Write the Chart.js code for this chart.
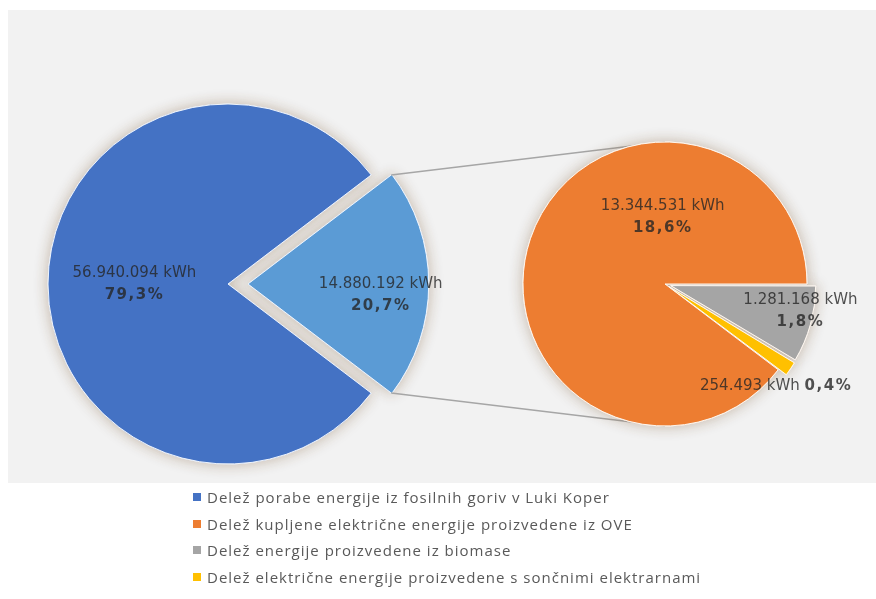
<!DOCTYPE html>
<html>
<head>
<meta charset="utf-8">
<script src="https://cdn.jsdelivr.net/npm/chart.js@4.4.1/dist/chart.umd.min.js"></script>
<style>
  html, body { margin: 0; padding: 0; background: #fff; }
  #wrap { position: relative; width: 876px; height: 599px; overflow: hidden; }
  #panel { position: absolute; left: 8px; top: 10px; width: 868px; height: 473px; background: #f2f2f2; }
  canvas { position: absolute; left: 0; top: 0; }
  #legend { position: absolute; left: 193px; top: 484px; font: 15px "Open Sans", sans-serif; letter-spacing: 1px; color: #595959; }
  #legend div { height: 26.5px; display: flex; align-items: center; white-space: nowrap; }
  #legend span { width: 8px; height: 8px; margin-right: 6px; display: inline-block; }
</style>
</head>
<body>
<div id="wrap">
  <div id="panel"></div>
  <canvas id="mainPie" width="876" height="599"></canvas>
  <canvas id="subPie" width="876" height="599"></canvas>
  <div id="legend"></div>
</div>
<script>
// glavni krog: fosilna goriva / OVE
const mainLabels = ['Delež porabe energije iz fosilnih goriv v Luki Koper', 'OVE skupaj'];
const mainValues = [56940094, 14880192];
const mainPercents = ['79,3%', '20,7%'];
const mainColors = ['#4472c4', '#5b9bd5'];

// drugi krog: razčlenitev OVE
const subLabels = [
  'Delež kupljene električne energije proizvedene iz OVE',
  'Delež energije proizvedene iz biomase',
  'Delež električne energije proizvedene s sončnimi elektrarnami'
];
const subValues = [13344531, 1281168, 254493];
const subPercents = ['18,6%', '1,8%', '0,4%'];
const subColors = ['#ed7d31', '#a5a5a5', '#ffc000'];

const OFFSET_DIV = 4; // v4 arc draws options.offset / 4
const sum = a => a.reduce((s, v) => s + v, 0);
const fmt = v => String(v).replace(/\B(?=(\d{3})+(?!\d))/g, '.') + ' kWh';
const deg = d => d * Math.PI / 180;

// where each label sits: angle (null = slice middle) and fraction of radius
const mainPlace = [{ angle: null, r: 0.52 }, { angle: 5, r: 0.74 }];
const subPlace = [{ angle: -92, r: 0.47 }, { angle: 11, r: 0.93 }, { angle: 43, r: 1.03, inline: true }];

function arcShift(arc) {
  const mid = (arc.startAngle + arc.endAngle) / 2;
  const off = (arc.options.offset || 0) / OFFSET_DIV;
  return { x: arc.x + Math.cos(mid) * off, y: arc.y + Math.sin(mid) * off, mid };
}

// soft shadow under slices, drawn before the slices themselves
const shadowPlugin = {
  id: 'shadow',
  beforeDatasetsDraw(chart) {
    const ctx = chart.ctx;
    chart.getDatasetMeta(0).data.forEach(arc => {
      ctx.save();
      ctx.shadowColor = 'rgba(140, 110, 80, 0.45)';
      ctx.shadowBlur = 14;
      arc.draw(ctx);
      ctx.restore();
    });
  }
};

function labelPlugin(values, percents, place) {
  return {
    id: 'sliceLabels',
    afterDatasetsDraw(chart) {
      const ctx = chart.ctx;
      chart.getDatasetMeta(0).data.forEach((arc, i) => {
        const p = place[i];
        const c = arcShift(arc);
        const a = p.angle === null ? c.mid : deg(p.angle);
        const x = c.x + Math.cos(a) * p.r * arc.outerRadius;
        const y = c.y + Math.sin(a) * p.r * arc.outerRadius;
        const valText = fmt(values[i]);
        ctx.save();
        ctx.fillStyle = 'rgba(38, 38, 38, 0.8)';
        ctx.textBaseline = 'middle';
        if (p.inline) {
          ctx.font = '15px "DejaVu Sans"';
          const w1 = ctx.measureText(valText + ' ').width;
          ctx.font = 'bold 15px "DejaVu Sans"';
          ctx.letterSpacing = '1.5px';
          const w2 = ctx.measureText(percents[i]).width;
          const x0 = x - (w1 + w2) / 2;
          ctx.textAlign = 'left';
          ctx.letterSpacing = '0px';
          ctx.font = '15px "DejaVu Sans"';
          ctx.fillText(valText, x0, y);
          ctx.font = 'bold 15px "DejaVu Sans"';
          ctx.letterSpacing = '1.5px';
          ctx.fillText(percents[i], x0 + w1, y);
        } else {
          ctx.textAlign = 'center';
          ctx.font = '15px "DejaVu Sans"';
          ctx.fillText(valText, x, y - 11);
          ctx.font = 'bold 15px "DejaVu Sans"';
          ctx.letterSpacing = '1.5px';
          ctx.fillText(percents[i], x, y + 11);
        }
        ctx.restore();
      });
    }
  };
}

const mainShare = mainValues[1] / sum(mainValues);
const mainChart = new Chart(document.getElementById('mainPie'), {
  type: 'pie',
  data: {
    labels: mainLabels,
    datasets: [{
      data: mainValues,
      backgroundColor: mainColors,
      borderColor: '#eef3fb',
      borderWidth: 1,
      offset: [0, 20 * OFFSET_DIV],
      hoverOffset: 0,
      radius: 180
    }]
  },
  options: {
    responsive: false,
    animation: false,
    events: [],
    rotation: 90 + mainShare * 180,
    layout: { padding: { left: 38, right: 458, top: 94, bottom: 125 } },
    plugins: { legend: { display: false }, tooltip: { enabled: false } }
  },
  plugins: [shadowPlugin, labelPlugin(mainValues, mainPercents, mainPlace)]
});

// connector lines from the exploded slice to the second pie
const connectorPlugin = {
  id: 'connectors',
  beforeDatasetsDraw(chart) {
    const src = mainChart.getDatasetMeta(0).data[1];
    const s = arcShift(src);
    const R = src.outerRadius;
    const dst = chart.getDatasetMeta(0).data[0];
    const ctx = chart.ctx;
    ctx.save();
    ctx.strokeStyle = '#a6a6a6';
    ctx.lineWidth = 1.5;
    ctx.beginPath();
    ctx.moveTo(s.x + Math.cos(src.startAngle) * R, s.y + Math.sin(src.startAngle) * R);
    ctx.lineTo(dst.x, dst.y - dst.outerRadius);
    ctx.moveTo(s.x + Math.cos(src.endAngle) * R, s.y + Math.sin(src.endAngle) * R);
    ctx.lineTo(dst.x, dst.y + dst.outerRadius);
    ctx.stroke();
    ctx.restore();
  }
};

const subShare = (subValues[1] + subValues[2]) / sum(subValues);
new Chart(document.getElementById('subPie'), {
  type: 'pie',
  data: {
    labels: subLabels,
    datasets: [{
      data: subValues,
      backgroundColor: subColors,
      borderColor: '#fdf6ef',
      borderWidth: 1,
      offset: [0, 6 * OFFSET_DIV, 5 * OFFSET_DIV],
      hoverOffset: 0,
      radius: 142
    }]
  },
  options: {
    responsive: false,
    animation: false,
    events: [],
    rotation: 90 + subShare * 360,
    layout: { padding: { left: 515, right: 61, top: 134, bottom: 165 } },
    plugins: { legend: { display: false }, tooltip: { enabled: false } }
  },
  plugins: [connectorPlugin, shadowPlugin, labelPlugin(subValues, subPercents, subPlace)]
});

// legend: main category first, then the breakdown
const legend = document.getElementById('legend');
[[mainLabels[0], mainColors[0]], ...subLabels.map((l, i) => [l, subColors[i]])].forEach(([text, color]) => {
  const row = document.createElement('div');
  const box = document.createElement('span');
  box.style.background = color;
  row.appendChild(box);
  row.appendChild(document.createTextNode(text));
  legend.appendChild(row);
});
</script>
</body>
</html>
